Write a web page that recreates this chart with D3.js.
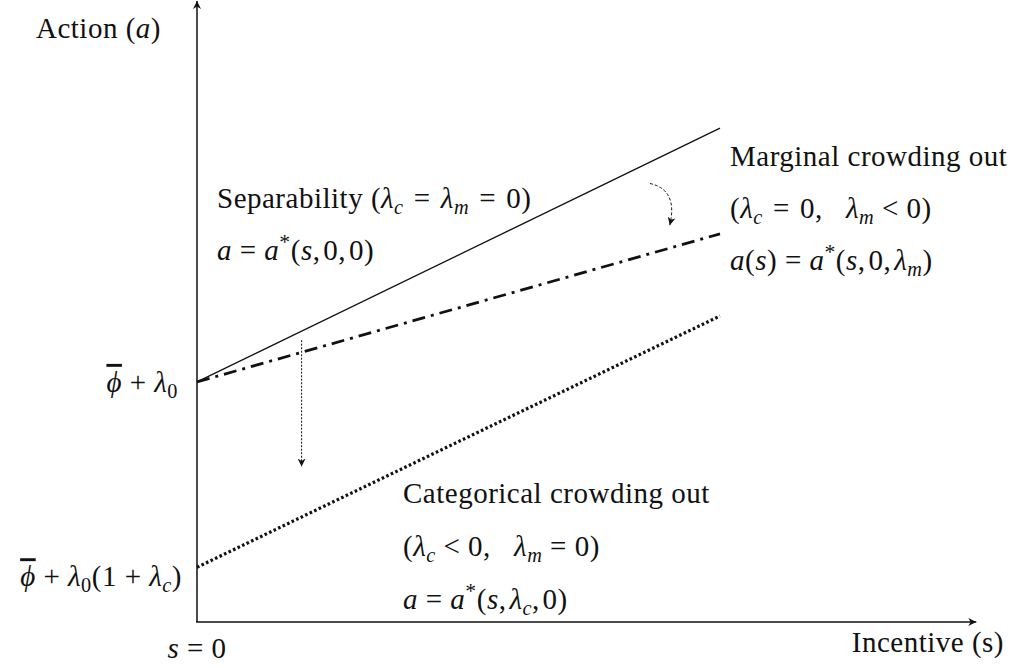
<!DOCTYPE html>
<html>
<head>
<meta charset="utf-8">
<script src="https://cdn.jsdelivr.net/npm/d3@7"></script>
<style>
  body { margin: 0; background: #fff; }
  svg { display: block; }
  text { font-family: "Liberation Serif", "Times New Roman", serif; fill: #111; letter-spacing: 0.5px; white-space: pre; }
</style>
</head>
<body>
<div id="chart"></div>
<script>
// incentive values where the three schedules are drawn (s = 0 .. 10)
const incentive = [0, 10];
// action level for each schedule
const separability = [3.86, 7.94];
const marginal = [3.86, 6.24];
const categorical = [0.88, 4.92];

// axis labels and annotations, split in tokens: [text, kind]
// kind: r = roman, i = italic, sub = italic subscript, subr = roman subscript, sup = superscript, bar = italic with overline
const TH = "\u200A";  // hair space after math commas
const yTitle = [["Action (", "r"], ["a", "i"], [")", "r"]];
const xTitle = [["Incentive (s)", "r"]];
const originLabel = [["s", "i"], [" = 0", "r"]];
const tickHigh = [["ϕ", "bar"], [" + ", "r"], ["λ", "i"], ["0", "subr"]];
const tickLow = [["ϕ", "bar"], [" + ", "r"], ["λ", "i"], ["0", "subr"], ["(1 + ", "r"], ["λ", "i"], ["c", "sub"], [")", "r"]];

const sepTitle = [["Separability (", "r"], ["λ", "i"], ["c", "sub"], ["\u2004=\u2004", "r"], ["λ", "i"], ["m", "sub"], ["\u2004=\u20040)", "r"]];
const sepEq = [["a", "i"], [" = ", "r"], ["a", "i"], ["*", "sup"], ["(", "r"], ["s", "i"], [","+TH+"0,"+TH+"0)", "r"]];
const margTitle = [["Marginal crowding out", "r"]];
const margCond = [["(", "r"], ["λ", "i"], ["c", "sub"], ["\u2004=\u20040,   ", "r"], ["λ", "i"], ["m", "sub"], [" < 0)", "r"]];
const margEq = [["a", "i"], ["(", "r"], ["s", "i"], [") = ", "r"], ["a", "i"], ["*", "sup"], ["(", "r"], ["s", "i"], [","+TH+"0,"+TH, "r"], ["λ", "i"], ["m", "sub"], [")", "r"]];
const catTitle = [["Categorical crowding out", "r"]];
const catCond = [["(", "r"], ["λ", "i"], ["c", "sub"], [" < 0,   ", "r"], ["λ", "i"], ["m", "sub"], [" = 0)", "r"]];
const catEq = [["a", "i"], [" = ", "r"], ["a", "i"], ["*", "sup"], ["(", "r"], ["s", "i"], [","+TH, "r"], ["λ", "i"], ["c", "sub"], [","+TH+"0)", "r"]];

const width = 1012, height = 668;
const fs = 29;

const svg = d3.select("#chart").append("svg")
  .attr("width", width)
  .attr("height", height);

svg.append("rect").attr("width", width).attr("height", height).attr("fill", "#fff");

const x = d3.scaleLinear().domain([0, 10]).range([197, 720]);
const y = d3.scaleLinear().domain([0, 10]).range([622, 0]);

const defs = svg.append("defs");
function marker(id, w, h) {
  defs.append("marker")
    .attr("id", id)
    .attr("viewBox", "0 0 10 10")
    .attr("refX", 10).attr("refY", 5)
    .attr("markerWidth", w).attr("markerHeight", h)
    .attr("markerUnits", "userSpaceOnUse")
    .attr("orient", "auto")
    .append("path").attr("d", "M0,0 L10,5 L0,10 L3,5 Z").attr("fill", "#111");
}
marker("axisHead", 9, 8);
marker("smallHead", 8, 8);

// axes
svg.append("line")
  .attr("x1", x(0)).attr("y1", y(0))
  .attr("x2", x(0)).attr("y2", 1)
  .attr("stroke", "#111").attr("stroke-width", 1.5)
  .attr("marker-end", "url(#axisHead)");
svg.append("line")
  .attr("x1", x(0) - 1).attr("y1", y(0))
  .attr("x2", x(14.9)).attr("y2", y(0))
  .attr("stroke", "#111").attr("stroke-width", 1.5)
  .attr("marker-end", "url(#axisHead)");

const line = d3.line()
  .x(d => x(d[0]))
  .y(d => y(d[1]));

// separability: thin solid
svg.append("path")
  .datum(d3.zip(incentive, separability))
  .attr("d", line)
  .attr("fill", "none").attr("stroke", "#111").attr("stroke-width", 1.3);

// marginal crowding out: dash-dot
svg.append("path")
  .datum(d3.zip(incentive, marginal))
  .attr("d", line)
  .attr("fill", "none").attr("stroke", "#111").attr("stroke-width", 2.8)
  .attr("stroke-dasharray", "13,6,3,6");

// categorical crowding out: dotted
svg.append("path")
  .datum(d3.zip(incentive, categorical))
  .attr("d", line)
  .attr("fill", "none").attr("stroke", "#111").attr("stroke-width", 3.2)
  .attr("stroke-dasharray", "2.6,2.4");

// shift arrows
svg.append("line")
  .attr("x1", x(2)).attr("y1", y(4.53))
  .attr("x2", x(2)).attr("y2", y(2.5))
  .attr("stroke", "#111").attr("stroke-width", 1)
  .attr("stroke-dasharray", "2,1.5")
  .attr("marker-end", "url(#smallHead)");

svg.append("path")
  .attr("d", `M${x(8.66)},${y(7.05)} Q${x(9.2)},${y(6.95)} ${x(9.04)},${y(6.38)}`)
  .attr("fill", "none").attr("stroke", "#111").attr("stroke-width", 1)
  .attr("stroke-dasharray", "3,2")
  .attr("marker-end", "url(#smallHead)");

// text helper: tokens with italic / subscript / superscript
function mathText(tokens, px, py, anchor) {
  const t = svg.append("text")
    .attr("x", px).attr("y", py)
    .attr("font-size", fs)
    .attr("text-anchor", anchor || "start");
  let shift = 0;
  tokens.forEach(([str, kind]) => {
    const ts = t.append("tspan").text(str);
    let target = 0;
    if (kind === "i") ts.attr("font-style", "italic");
    if (kind === "bar") ts.attr("font-style", "italic").attr("text-decoration", "overline");
    if (kind === "sub" || kind === "subr") {
      ts.attr("font-size", fs * 0.7);
      if (kind === "sub") ts.attr("font-style", "italic");
      target = 6;
    }
    if (kind === "sup") {
      ts.attr("font-size", fs * 0.75);
      target = -11;
    }
    if (target !== shift) ts.attr("dy", target - shift);
    shift = target;
  });
  return t;
}

mathText(yTitle, 36, 38);
mathText(xTitle, 1004, 652, "end");
mathText(originLabel, x(0), 658, "middle");
mathText(tickHigh, 178, y(separability[0]) + 10, "end");
mathText(tickLow, 182, y(categorical[0]) + 19, "end");

mathText(sepTitle, 217, 208);
mathText(sepEq, 217, 260);
mathText(margTitle, 730, 166);
mathText(margCond, 730, 218);
mathText(margEq, 730, 270);
mathText(catTitle, 403, 503);
mathText(catCond, 403, 556);
mathText(catEq, 403, 609);
</script>
</body>
</html>
